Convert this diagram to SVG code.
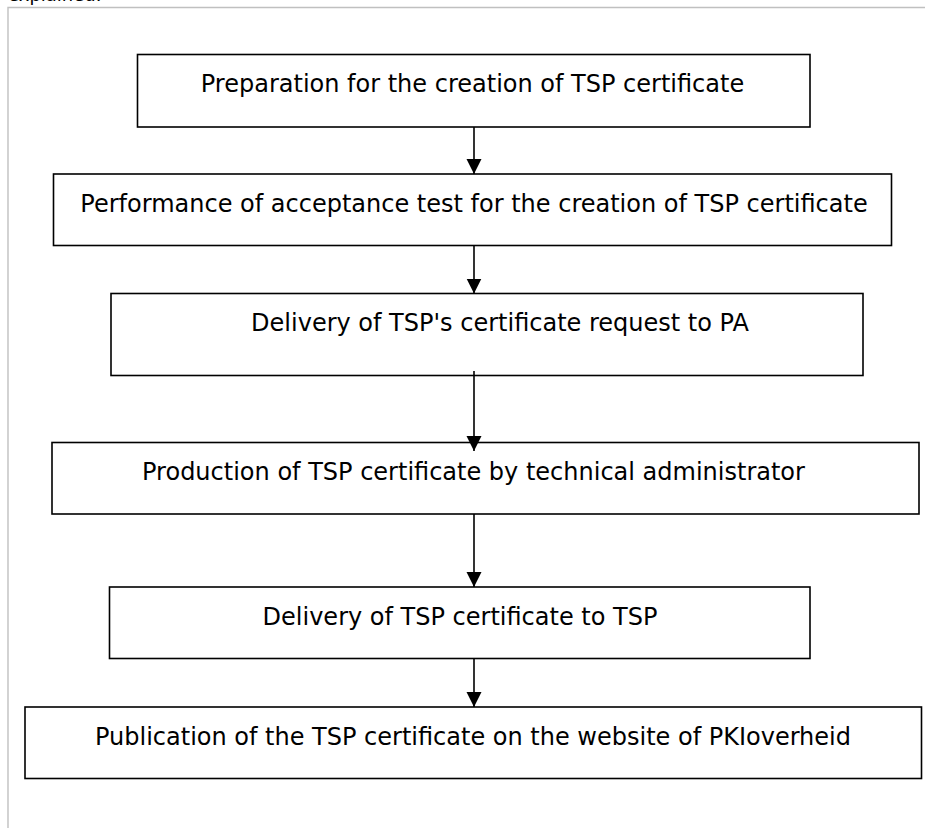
<svg xmlns="http://www.w3.org/2000/svg" width="925" height="828" viewBox="0 0 925 828">
<defs>
<style>
.box{fill:#fff;stroke:#000;stroke-width:1.6}
.lbl{font-family:"DejaVu Sans",Verdana,sans-serif;font-size:24px;fill:#000;text-anchor:middle}
.frame{stroke:#c0c0c0;stroke-width:1.4;fill:none}
.conn{stroke:#000;stroke-width:1.6;fill:none}
</style>
<marker id="ah" markerUnits="userSpaceOnUse" markerWidth="16" markerHeight="16" viewBox="0 0 16 16" refX="15" refY="8" orient="auto">
<path d="M0,0.5 L15,8 L0,15.5 Z" fill="#000"/>
</marker>
</defs>
<rect width="925" height="828" fill="#fff"/>
<text x="8" y="0.5" style="font-family:'DejaVu Sans',Verdana,sans-serif;font-size:18px;fill:#000">explained.</text>
<path class="frame" d="M8,828 L8,7.5 L925,7.5"/>
<g id="n1"><rect class="box" x="137.5" y="54.5" width="672.5" height="72.5"/><text class="lbl" x="472.5" y="92">Preparation for the creation of TSP certificate</text></g>
<g id="n2"><rect class="box" x="53.5" y="174" width="838" height="71.5"/><text class="lbl" x="474" y="211.5">Performance of acceptance test for the creation of TSP certificate</text></g>
<g id="n3"><rect class="box" x="111" y="293.5" width="752" height="82"/><text class="lbl" x="500" y="331">Delivery of TSP's certificate request to PA</text></g>
<g id="n4"><rect class="box" x="52" y="442.5" width="867" height="71.5"/><text class="lbl" x="473.5" y="480">Production of TSP certificate by technical administrator</text></g>
<g id="n5"><rect class="box" x="109.5" y="587" width="700.5" height="71.5"/><text class="lbl" x="460" y="625">Delivery of TSP certificate to TSP</text></g>
<g id="n6"><rect class="box" x="25" y="707" width="896.5" height="71.5"/><text class="lbl" x="473" y="745">Publication of the TSP certificate on the website of PKIoverheid</text></g>
<g id="connectors">
<line class="conn" x1="474" y1="127" x2="474" y2="174" marker-end="url(#ah)"/>
<line class="conn" x1="474" y1="245.5" x2="474" y2="293.5" marker-end="url(#ah)"/>
<line class="conn" x1="474" y1="371" x2="474" y2="451" marker-end="url(#ah)"/>
<line class="conn" x1="474" y1="514" x2="474" y2="587" marker-end="url(#ah)"/>
<line class="conn" x1="474" y1="658.5" x2="474" y2="707" marker-end="url(#ah)"/>
</g>
</svg>
